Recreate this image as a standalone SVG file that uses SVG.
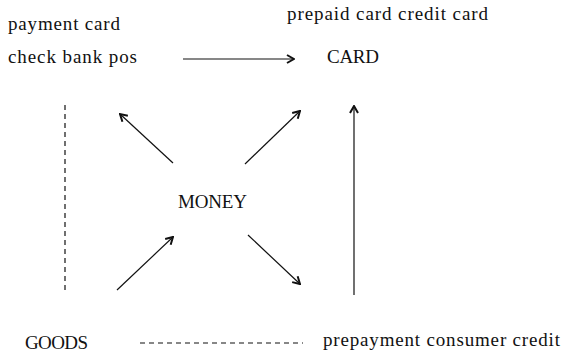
<svg xmlns="http://www.w3.org/2000/svg" width="564" height="354" viewBox="0 0 564 354">
<style>
text{font-family:"Liberation Serif","Times New Roman",serif;font-size:19px;fill:#111}
.ln{stroke:#111;stroke-width:1.2;fill:none}
.dash{stroke:#111;stroke-width:1.2;fill:none;stroke-dasharray:5 4}
</style>
<defs>
<marker id="ah" viewBox="0 0 10 10" refX="9" refY="5" markerWidth="10" markerHeight="10" markerUnits="userSpaceOnUse" orient="auto">
<polyline points="2,1 9,5 2,9" fill="none" stroke="#111" stroke-width="2"/>
</marker>
</defs>
<rect width="564" height="354" fill="#fff"/>
<g id="payment">
<text x="8" y="30" textLength="112" lengthAdjust="spacing">payment card</text>
<text x="8" y="63" textLength="129" lengthAdjust="spacing">check bank pos</text>
</g>
<g id="card">
<text x="287" y="20" textLength="201" lengthAdjust="spacing">prepaid card credit card</text>
<text x="327" y="63" textLength="52" lengthAdjust="spacing">CARD</text>
</g>
<g id="money">
<text x="178" y="208" textLength="69" lengthAdjust="spacing">MONEY</text>
</g>
<g id="goods">
<text x="25" y="349" textLength="63" lengthAdjust="spacing">GOODS</text>
</g>
<g id="credit">
<text x="323" y="346" textLength="237" lengthAdjust="spacing">prepayment consumer credit</text>
</g>
<g id="connectors">
<line class="ln" x1="183" y1="59" x2="294" y2="59" marker-end="url(#ah)"/>
<line class="dash" x1="65" y1="105" x2="65" y2="290"/>
<line class="ln" x1="173" y1="163" x2="120" y2="114" marker-end="url(#ah)"/>
<line class="ln" x1="245" y1="164" x2="300" y2="111" marker-end="url(#ah)"/>
<line class="ln" x1="117" y1="290" x2="173" y2="237" marker-end="url(#ah)"/>
<line class="ln" x1="248" y1="235" x2="300" y2="284" marker-end="url(#ah)"/>
<line class="ln" x1="354" y1="295" x2="354" y2="106" marker-end="url(#ah)"/>
<line class="dash" x1="140" y1="343" x2="303" y2="343"/>
</g>
</svg>
